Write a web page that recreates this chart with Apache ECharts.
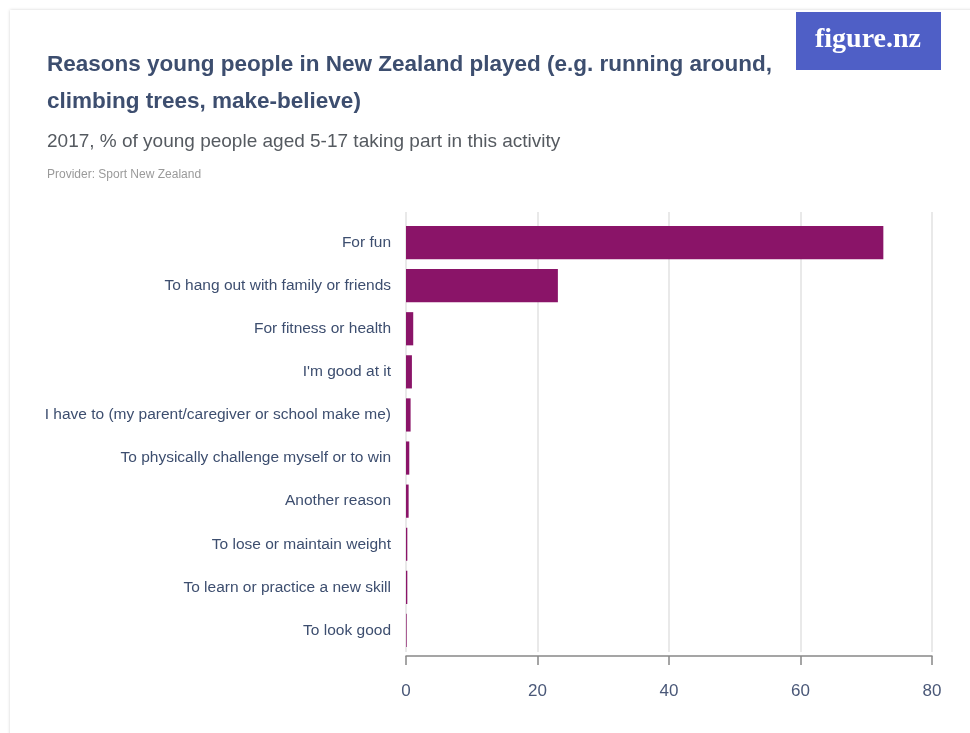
<!DOCTYPE html>
<html>
<head>
<meta charset="utf-8">
<script src="https://cdn.jsdelivr.net/npm/echarts@6/dist/echarts.min.js"></script>
<style>
  html, body { margin: 0; padding: 0; background: #ffffff; overflow: hidden; }
  #card {
    position: absolute; left: 10px; top: 10px; width: 1000px; height: 800px;
    background: #fff; box-shadow: 0 0 3px rgba(0,0,0,0.18);
  }
  #chart { position: absolute; left: 0; top: 0; width: 970px; height: 733px; }
</style>
</head>
<body>
<div id="card"></div>
<div id="chart"></div>
<script>
// Reasons for play, % of young people aged 5-17 (2017)
const categories = [
  'For fun',
  'To hang out with family or friends',
  'For fitness or health',
  "I'm good at it",
  'I have to (my parent/caregiver or school make me)',
  'To physically challenge myself or to win',
  'Another reason',
  'To lose or maintain weight',
  'To learn or practice a new skill',
  'To look good'
];
const values = [72.6, 23.1, 1.1, 0.9, 0.7, 0.5, 0.4, 0.2, 0.2, 0.1];
const xTicks = [0, 20, 40, 60, 80];

const chart = echarts.init(document.getElementById('chart'));
const font = 'Liberation Sans';
const xMin = xTicks[0], xMax = xTicks[xTicks.length - 1], xStep = xTicks[1] - xTicks[0];

chart.setOption({
  animation: false,
  title: [
    {
      text: 'Reasons young people in New Zealand played (e.g. running around,\nclimbing trees, make-believe)',
      left: 42, top: 41,
      textStyle: { fontFamily: font, fontSize: 22.5, fontWeight: 'bold', color: '#3d4e6f', lineHeight: 37 }
    },
    {
      text: '2017, % of young people aged 5-17 taking part in this activity',
      left: 42, top: 127,
      textStyle: { fontFamily: font, fontSize: 19, fontWeight: 'normal', color: '#555a60' }
    },
    {
      text: 'Provider: Sport New Zealand',
      left: 42, top: 164,
      textStyle: { fontFamily: font, fontSize: 12, fontWeight: 'normal', color: '#9a9a9a' }
    }
  ],
  graphic: [
    {
      type: 'group', left: 796, top: 12,
      children: [
        { type: 'rect', shape: { x: 0, y: 0, width: 145, height: 58 }, style: { fill: '#4f5fc6' } },
        { type: 'text', x: 72, y: 28, style: { text: 'figure.nz', fill: '#ffffff', font: 'bold 28px "Liberation Serif", serif', align: 'center', verticalAlign: 'middle' } }
      ]
    }
  ],
  grid: [
    { left: 406, right: 38, top: 221, bottom: 81, containLabel: false },
    { left: 406, right: 38, top: 212, bottom: 81, containLabel: false }
  ],
  xAxis: [
    {
      gridIndex: 0, type: 'value', min: xMin, max: xMax, interval: xStep,
      splitLine: { show: false },
      axisLine: { show: true, onZero: false, lineStyle: { color: '#888888', width: 1.5 } },
      axisTick: { show: true, length: 9, lineStyle: { color: '#888888', width: 1.5 } },
      axisLabel: { margin: 27, fontFamily: font, fontSize: 17, color: '#4a5878' },
      offset: 4
    },
    {
      gridIndex: 1, type: 'value', min: xMin, max: xMax, interval: xStep,
      axisLine: { show: false }, axisTick: { show: false }, axisLabel: { show: false },
      splitLine: { show: true, lineStyle: { color: '#e2e2e2', width: 1.5 } }
    }
  ],
  yAxis: [
    {
      gridIndex: 0, type: 'category', data: categories, inverse: true,
      axisLine: { show: false }, axisTick: { show: false },
      axisLabel: { margin: 15, fontFamily: font, fontSize: 15.5, color: '#3d4e6f' }
    },
    {
      gridIndex: 1, type: 'category', data: [''], show: false
    }
  ],
  series: [
    {
      type: 'bar', xAxisIndex: 0, yAxisIndex: 0, data: values,
      barCategoryGap: '23%',
      itemStyle: { color: '#8a1468' },
      z: 3
    }
  ]
});
</script>
</body>
</html>
